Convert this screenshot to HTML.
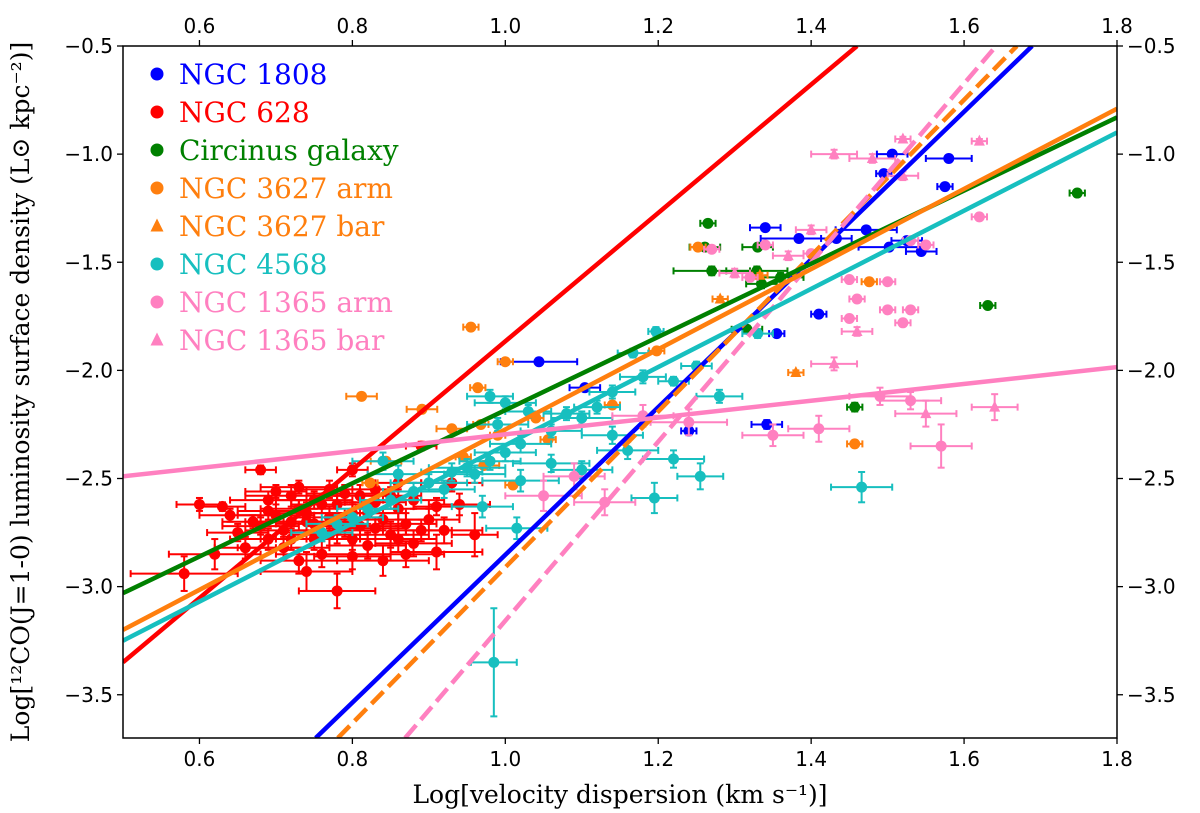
<!DOCTYPE html>
<html><head><meta charset="utf-8"><style>body{margin:0;background:#fff}svg{display:block}</style></head>
<body>
<svg id="chart" width="1200" height="813" xmlns="http://www.w3.org/2000/svg" font-family="DejaVu Sans, sans-serif">
<defs><clipPath id="pc"><rect x="123" y="46" width="994" height="692"/></clipPath></defs>
<rect x="0" y="0" width="1200" height="813" fill="#fff"/>
<g id="marks" clip-path="url(#pc)"></g>
<g id="lines" clip-path="url(#pc)"></g>
<rect x="123" y="46" width="994" height="692" fill="none" stroke="#000" stroke-width="1.5"/>
<g id="axes"></g>
<g id="legend"></g>
<text x="620" y="803" text-anchor="middle" font-family="DejaVu Serif, serif" font-size="25">Log[velocity dispersion (km s⁻¹)]</text>
<text transform="translate(29,392) rotate(-90)" text-anchor="middle" font-family="DejaVu Serif, serif" font-size="25">Log[¹²CO(J=1-0) luminosity surface density (L⊙ kpc⁻²)]</text>
</svg>
<script>
const xTicks=[0.6,0.8,1.0,1.2,1.4,1.6,1.8];
const yTicks=[-3.5,-3.0,-2.5,-2.0,-1.5,-1.0,-0.5];
const seriesNames=["NGC 1808","NGC 628","Circinus galaxy","NGC 3627 arm","NGC 3627 bar","NGC 4568","NGC 1365 arm","NGC 1365 bar"];
const seriesColors=["#0000ff","#ff0000","#008000","#ff7f0e","#ff7f0e","#17bfbf","#ff80c0","#ff80c0"];
const seriesShapes=["o","o","o","o","^","o","o","^"];
// points: [x, y, xerr, yerr]
const ngc1808=[[1.506,-1.0,0.02,0.01],[1.58,-1.02,0.03,0.01],[1.495,-1.09,0.01,0.01],[1.575,-1.15,0.01,0.01],[1.384,-1.39,0.05,0.01],[1.433,-1.39,0.02,0.01],[1.472,-1.35,0.04,0.01],[1.502,-1.43,0.04,0.01],[1.525,-1.40,0.02,0.01],[1.544,-1.45,0.02,0.01],[1.41,-1.74,0.01,0.01],[1.355,-1.83,0.01,0.01],[1.342,-2.25,0.02,0.02],[1.104,-2.08,0.02,0.01],[1.044,-1.96,0.05,0.01],[1.24,-2.28,0.01,0.01],[1.34,-1.34,0.02,0.01]];
const ngc628=[[0.58,-2.94,0.07,0.08],[0.62,-2.85,0.06,0.07],[0.74,-2.93,0.06,0.09],[0.78,-3.02,0.05,0.08],[0.91,-2.84,0.06,0.08],[0.96,-2.76,0.03,0.1],[0.89,-2.35,0.02,0.02],[0.68,-2.46,0.02,0.02],[0.60,-2.62,0.03,0.03],[0.63,-2.63,0.03,0.02],[0.65,-2.75,0.04,0.04],[0.67,-2.70,0.04,0.03],[0.69,-2.60,0.05,0.04],[0.70,-2.67,0.05,0.05],[0.71,-2.74,0.05,0.04],[0.72,-2.58,0.06,0.05],[0.73,-2.64,0.05,0.04],[0.74,-2.70,0.06,0.05],[0.75,-2.78,0.05,0.05],[0.76,-2.62,0.04,0.04],[0.77,-2.68,0.05,0.05],[0.78,-2.74,0.06,0.06],[0.79,-2.57,0.05,0.04],[0.80,-2.66,0.06,0.05],[0.81,-2.72,0.05,0.06],[0.82,-2.81,0.05,0.06],[0.83,-2.61,0.04,0.05],[0.84,-2.69,0.06,0.05],[0.85,-2.76,0.05,0.06],[0.86,-2.64,0.05,0.05],[0.87,-2.71,0.04,0.05],[0.88,-2.80,0.05,0.06],[0.90,-2.69,0.04,0.05],[0.92,-2.74,0.05,0.06],[0.94,-2.62,0.04,0.05],[0.71,-2.82,0.06,0.05],[0.73,-2.88,0.05,0.06],[0.76,-2.85,0.06,0.06],[0.80,-2.86,0.05,0.06],[0.84,-2.88,0.06,0.07],[0.87,-2.85,0.05,0.06],[0.66,-2.82,0.04,0.05],[0.69,-2.78,0.05,0.05],[0.72,-2.70,0.06,0.05],[0.75,-2.60,0.05,0.04],[0.78,-2.62,0.05,0.04],[0.81,-2.58,0.05,0.05],[0.83,-2.55,0.03,0.03],[0.86,-2.52,0.03,0.03],[0.88,-2.60,0.04,0.04],[0.70,-2.56,0.04,0.03],[0.73,-2.54,0.05,0.03],[0.77,-2.55,0.04,0.04],[0.79,-2.72,0.05,0.05],[0.82,-2.66,0.05,0.05],[0.85,-2.58,0.04,0.04],[0.64,-2.67,0.04,0.03],[0.68,-2.72,0.05,0.04],[0.72,-2.78,0.04,0.05],[0.75,-2.71,0.05,0.05],[0.80,-2.78,0.05,0.05],[0.83,-2.73,0.04,0.05],[0.86,-2.78,0.05,0.06],[0.89,-2.74,0.04,0.05],[0.91,-2.63,0.03,0.04],[0.93,-2.52,0.04,0.04],[0.80,-2.46,0.02,0.03],[0.74,-2.66,0.05,0.05],[0.77,-2.76,0.05,0.05],[0.69,-2.65,0.04,0.04]];
const circinus=[[1.265,-1.32,0.01,0.01],[1.261,-1.43,0.02,0.01],[1.33,-1.43,0.02,0.01],[1.329,-1.54,0.04,0.02],[1.27,-1.54,0.05,0.02],[1.316,-1.81,0.02,0.01],[1.457,-2.17,0.01,0.02],[1.631,-1.70,0.01,0.01],[1.748,-1.18,0.01,0.01],[1.36,-1.57,0.03,0.02],[1.335,-1.6,0.02,0.02]];
const n3627arm=[[0.955,-1.80,0.01,0.01],[1.0,-1.96,0.01,0.01],[0.964,-2.08,0.01,0.01],[0.812,-2.12,0.02,0.01],[0.891,-2.18,0.02,0.01],[0.93,-2.27,0.02,0.01],[0.968,-2.25,0.01,0.01],[1.04,-2.22,0.01,0.01],[1.01,-2.53,0.01,0.01],[0.972,-2.44,0.02,0.01],[0.945,-2.40,0.01,0.01],[1.056,-2.32,0.01,0.01],[1.198,-1.91,0.01,0.01],[1.252,-1.43,0.01,0.01],[1.476,-1.59,0.01,0.01],[1.457,-2.34,0.01,0.01],[0.844,-2.42,0.02,0.01],[0.823,-2.52,0.01,0.01],[1.14,-2.16,0.01,0.01],[0.99,-2.30,0.01,0.01]];
const n3627bar=[[1.281,-1.67,0.01,0.01],[1.380,-2.01,0.01,0.01],[1.333,-1.56,0.01,0.01]];
const ngc4568=[[0.985,-3.35,0.03,0.25],[1.255,-2.49,0.03,0.06],[1.195,-2.59,0.03,0.07],[1.466,-2.54,0.04,0.07],[1.167,-1.92,0.02,0.02],[1.197,-1.82,0.01,0.02],[1.14,-2.10,0.03,0.03],[1.12,-2.17,0.03,0.03],[1.10,-2.22,0.04,0.03],[1.06,-2.28,0.04,0.03],[1.02,-2.34,0.04,0.04],[1.00,-2.38,0.04,0.04],[0.98,-2.42,0.04,0.04],[0.95,-2.45,0.05,0.04],[0.93,-2.47,0.04,0.04],[0.90,-2.52,0.05,0.04],[0.88,-2.56,0.04,0.04],[0.85,-2.60,0.04,0.04],[0.82,-2.64,0.04,0.04],[0.80,-2.68,0.04,0.04],[0.78,-2.71,0.04,0.04],[0.76,-2.75,0.04,0.04],[1.08,-2.20,0.03,0.03],[1.18,-2.03,0.03,0.03],[1.22,-2.05,0.02,0.02],[1.25,-1.98,0.02,0.02],[1.03,-2.19,0.03,0.03],[0.99,-2.25,0.04,0.03],[1.06,-2.43,0.05,0.04],[1.10,-2.46,0.04,0.04],[1.02,-2.51,0.05,0.05],[0.96,-2.48,0.04,0.04],[1.14,-2.30,0.04,0.04],[1.28,-2.12,0.03,0.03],[1.33,-1.83,0.02,0.02],[0.97,-2.63,0.04,0.05],[1.015,-2.73,0.04,0.05],[0.86,-2.48,0.04,0.04],[0.84,-2.42,0.04,0.04],[0.92,-2.55,0.04,0.04],[1.16,-2.37,0.04,0.04],[1.22,-2.41,0.04,0.04],[0.98,-2.12,0.03,0.03],[1.0,-2.15,0.04,0.03]];
const n1365arm=[[1.57,-2.35,0.04,0.1],[1.53,-2.14,0.04,0.04],[1.41,-2.27,0.04,0.06],[1.35,-2.30,0.04,0.05],[1.24,-2.24,0.05,0.06],[1.18,-2.21,0.04,0.05],[1.05,-2.58,0.05,0.07],[1.09,-2.49,0.04,0.06],[1.13,-2.61,0.04,0.06],[1.49,-2.12,0.04,0.04],[1.62,-1.29,0.01,0.01],[1.50,-1.59,0.01,0.01],[1.45,-1.58,0.01,0.01],[1.46,-1.67,0.01,0.01],[1.45,-1.76,0.01,0.01],[1.52,-1.78,0.01,0.01],[1.50,-1.72,0.01,0.01],[1.53,-1.72,0.01,0.01],[1.32,-1.57,0.01,0.01],[1.34,-1.42,0.01,0.01],[1.40,-1.46,0.01,0.01],[1.27,-1.44,0.01,0.01],[1.55,-1.42,0.01,0.01],[1.53,-1.40,0.01,0.01]];
const n1365bar=[[1.43,-1.00,0.03,0.02],[1.48,-1.02,0.03,0.02],[1.40,-1.35,0.02,0.02],[1.37,-1.47,0.02,0.02],[1.43,-1.97,0.03,0.03],[1.64,-2.17,0.03,0.06],[1.55,-2.20,0.04,0.06],[1.52,-1.10,0.02,0.02],[1.46,-1.82,0.02,0.02],[1.30,-1.55,0.02,0.02],[1.62,-0.94,0.01,0.01],[1.52,-0.93,0.01,0.01]];
const allSeries=[ngc1808,ngc628,circinus,n3627arm,n3627bar,ngc4568,n1365arm,n1365bar];
const fitNames=["fit-ngc628","fit-ngc1808","fit-ngc3627-bar","fit-ngc1365-bar","fit-circinus","fit-ngc3627-arm","fit-ngc4568","fit-ngc1365-arm"];
const fitStarts=[[0.5,-3.35],[0.752,-3.7],[0.781,-3.7],[0.869,-3.7],[0.5,-3.03],[0.5,-3.20],[0.5,-3.25],[0.5,-2.49]];
const fitEnds=[[1.46,-0.5],[1.689,-0.5],[1.669,-0.5],[1.642,-0.5],[1.8,-0.83],[1.8,-0.79],[1.8,-0.90],[1.8,-1.985]];
const fitColors=["#ff0000","#0000ff","#ff7f0e","#ff80c0","#008000","#ff7f0e","#17bfbf","#ff80c0"];
const fitDash=[false,false,true,true,false,false,false,false];

const NS="http://www.w3.org/2000/svg";
const X0=123,X1=1117,Y0=738,Y1=46;
const sx=v=>X0+(v-0.5)/1.3*(X1-X0);
const sy=v=>Y0-(v+3.7)/3.2*(Y0-Y1);
function mk(tag,attrs,parent){const e=document.createElementNS(NS,tag);for(const k in attrs)e.setAttribute(k,attrs[k]);parent.appendChild(e);return e;}
const marks=document.getElementById('marks');
function marker(shape,cx,cy,col,r,parent){
  if(shape==="^")return mk('polygon',{points:`${cx},${cy-r-1} ${cx-r},${cy+r-1} ${cx+r},${cy+r-1}`,fill:col},parent);
  return mk('circle',{cx:cx,cy:cy,r:r,fill:col},parent);
}
allSeries.forEach((pts,si)=>{
  const g=mk('g',{},marks);
  
  
  const col=seriesColors[si];
  pts.forEach(p=>{
    const cx=sx(p[0]),cy=sy(p[1]);
    const xl=sx(p[0]-p[2]),xr=sx(p[0]+p[2]),yt=sy(p[1]+p[3]),yb=sy(p[1]-p[3]);
    const pg=mk('g',{stroke:col,'stroke-width':2},g);
    
    
    mk('line',{x1:xl,y1:cy,x2:xr,y2:cy},pg);
    mk('line',{x1:cx,y1:yt,x2:cx,y2:yb},pg);
    mk('line',{x1:xl,y1:cy-3.5,x2:xl,y2:cy+3.5},pg);
    mk('line',{x1:xr,y1:cy-3.5,x2:xr,y2:cy+3.5},pg);
    mk('line',{x1:cx-3.5,y1:yt,x2:cx+3.5,y2:yt},pg);
    mk('line',{x1:cx-3.5,y1:yb,x2:cx+3.5,y2:yb},pg);
    const m=marker(seriesShapes[si],cx,cy,col,5.5,pg);m.setAttribute('stroke','none');
  });
});
const lines=document.getElementById('lines');
fitStarts.forEach((s,i)=>{
  const e=fitEnds[i];
  const l=mk('line',{x1:sx(s[0]),y1:sy(s[1]),x2:sx(e[0]),y2:sy(e[1]),stroke:fitColors[i],'stroke-width':4.5},lines);
  if(fitDash[i])l.setAttribute('stroke-dasharray','17,7');
  
  
});
const axes=document.getElementById('axes');
xTicks.forEach(t=>{
  const x=sx(t);
  mk('line',{x1:x,y1:Y0,x2:x,y2:Y0+6,stroke:'#000','stroke-width':1.3},axes);
  mk('line',{x1:x,y1:Y1,x2:x,y2:Y1-6,stroke:'#000','stroke-width':1.3},axes);
  const b=mk('text',{x:x,y:Y0+28,'text-anchor':'middle','font-size':20},axes);b.textContent=t.toFixed(1);
  
  
  const tp=mk('text',{x:x,y:Y1-13,'text-anchor':'middle','font-size':20},axes);tp.textContent=t.toFixed(1);
  
  
});
yTicks.forEach(t=>{
  const y=sy(t);
  mk('line',{x1:X0,y1:y,x2:X0-6,y2:y,stroke:'#000','stroke-width':1.3},axes);
  mk('line',{x1:X1,y1:y,x2:X1+6,y2:y,stroke:'#000','stroke-width':1.3},axes);
  const lab=t.toFixed(1).replace('-','−');
  const a=mk('text',{x:X0-10,y:y+7,'text-anchor':'end','font-size':20},axes);a.textContent=lab;
  
  
  const b=mk('text',{x:X1+10,y:y+7,'text-anchor':'start','font-size':20},axes);b.textContent=lab;
  
  
});
const legend=document.getElementById('legend');
seriesNames.forEach((n,i)=>{
  const y=74+i*38;
  const g=mk('g',{},legend);
  
  
  marker(seriesShapes[i],157,y,seriesColors[i],6.5,g);
  const t=mk('text',{x:179,y:y+10,fill:seriesColors[i],'font-family':'DejaVu Serif, serif','font-size':28},g);t.textContent=n;
});
</script>
</body></html>
